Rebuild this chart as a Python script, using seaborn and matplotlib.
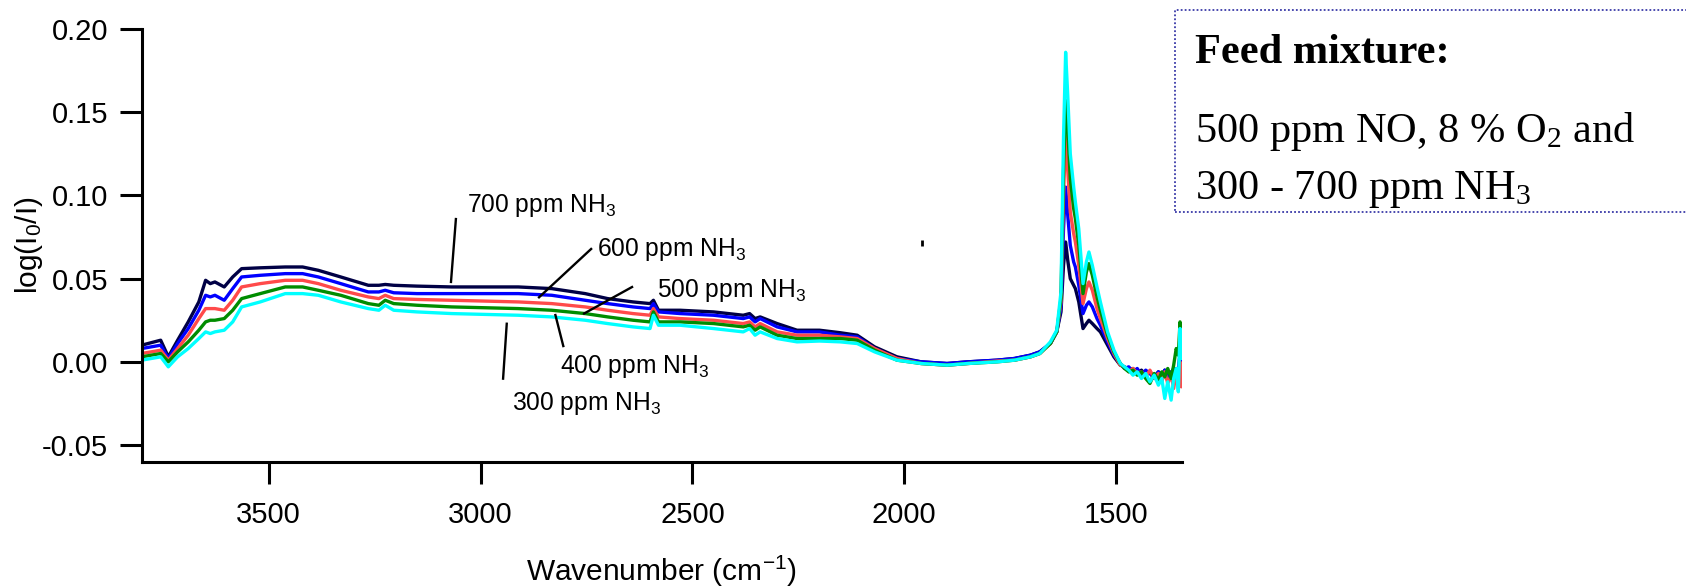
import numpy as np
import pandas as pd
import matplotlib
matplotlib.use("Agg")
import matplotlib.pyplot as plt
from matplotlib.patches import Rectangle
import seaborn as sns

# ---- spectra: wavenumber grid (cm^-1) and absorbance per NH3 level ----
wavenumber = [
    3800, 3755, 3737, 3715, 3690, 3665, 3649, 3638, 3627, 3605,
    3585, 3564, 3520, 3461, 3420, 3383, 3330, 3265, 3240, 3225,
    3205, 3150, 3068, 2911, 2832, 2753, 2700, 2640, 2600, 2592,
    2580, 2529, 2450, 2380, 2365, 2352, 2340, 2300, 2253, 2200,
    2151, 2111, 2070, 2017, 1960, 1899, 1850, 1781, 1740, 1702,
    1680, 1655, 1640, 1630, 1624, 1619, 1614, 1608, 1600, 1596,
    1588, 1578, 1570, 1564, 1556, 1545, 1537, 1520, 1505, 1490,
    1480, 1470, 1460, 1450, 1440, 1430, 1420, 1410, 1400, 1392,
    1385, 1378, 1370, 1364, 1358, 1353, 1349, 1346,
]

abs_700 = [
    0.010, 0.013, 0.003, 0.013, 0.024, 0.036, 0.049, 0.047, 0.048, 0.045,
    0.051, 0.056, 0.0565, 0.057, 0.057, 0.055, 0.051, 0.046, 0.046, 0.0465,
    0.046, 0.0455, 0.045, 0.045, 0.044, 0.041, 0.038, 0.036, 0.035, 0.037,
    0.031, 0.031, 0.030, 0.028, 0.029, 0.026, 0.027, 0.023, 0.019, 0.019,
    0.0175, 0.016, 0.009, 0.003, 0.000, -0.001, 0.000, 0.001, 0.002, 0.004,
    0.006, 0.011, 0.018, 0.030, 0.058, 0.072, 0.061, 0.050, 0.046, 0.044,
    0.036, 0.020, 0.023, 0.025, 0.023, 0.020, 0.018, 0.010, 0.003, -0.002,
    -0.003, -0.005, -0.004, -0.007, -0.005, -0.008, -0.006, -0.009, -0.006, -0.008,
    -0.005, -0.010, -0.006, -0.011, -0.004, -0.012, 0.008, -0.013,
]
abs_600 = [
    0.008, 0.010, 0.002, 0.011, 0.020, 0.031, 0.040, 0.039, 0.040, 0.037,
    0.044, 0.051, 0.052, 0.053, 0.053, 0.051, 0.047, 0.042, 0.042, 0.043,
    0.0415, 0.041, 0.041, 0.041, 0.040, 0.037, 0.035, 0.033, 0.032, 0.035,
    0.030, 0.029, 0.028, 0.026, 0.027, 0.024, 0.026, 0.021, 0.018, 0.018,
    0.016, 0.015, 0.008, 0.002, 0.000, -0.001, 0.000, 0.001, 0.002, 0.004,
    0.006, 0.011, 0.018, 0.033, 0.080, 0.105, 0.088, 0.070, 0.060, 0.057,
    0.046, 0.029, 0.034, 0.036, 0.033, 0.026, 0.022, 0.012, 0.004, -0.001,
    -0.004, -0.003, -0.006, -0.004, -0.008, -0.005, -0.007, -0.010, -0.006, -0.009,
    -0.005, -0.011, -0.007, -0.004, -0.012, -0.005, 0.004, -0.010,
]
abs_500 = [
    0.005, 0.007, 0.001, 0.008, 0.016, 0.026, 0.032, 0.032, 0.032, 0.031,
    0.037, 0.045, 0.047, 0.049, 0.049, 0.047, 0.043, 0.039, 0.038, 0.040,
    0.038, 0.0375, 0.037, 0.036, 0.035, 0.033, 0.031, 0.029, 0.028, 0.032,
    0.027, 0.026, 0.025, 0.023, 0.024, 0.021, 0.023, 0.018, 0.016, 0.016,
    0.015, 0.014, 0.008, 0.002, -0.001, -0.002, -0.001, 0.0005, 0.001, 0.003,
    0.005, 0.011, 0.018, 0.036, 0.100, 0.136, 0.115, 0.090, 0.077, 0.072,
    0.058, 0.035, 0.044, 0.048, 0.043, 0.032, 0.026, 0.014, 0.005, -0.002,
    -0.003, -0.006, -0.004, -0.007, -0.006, -0.009, -0.005, -0.010, -0.007, -0.012,
    -0.006, -0.013, -0.008, -0.016, -0.006, -0.012, 0.000, -0.015,
]
abs_400 = [
    0.003, 0.005, 0.000, 0.006, 0.012, 0.019, 0.024, 0.025, 0.025, 0.026,
    0.031, 0.038, 0.041, 0.045, 0.045, 0.043, 0.040, 0.035, 0.034, 0.037,
    0.035, 0.034, 0.033, 0.032, 0.031, 0.029, 0.027, 0.025, 0.024, 0.030,
    0.024, 0.024, 0.023, 0.021, 0.022, 0.019, 0.021, 0.016, 0.014, 0.014,
    0.014, 0.013, 0.007, 0.001, -0.001, -0.002, -0.001, 0.000, 0.001, 0.003,
    0.005, 0.011, 0.018, 0.038, 0.115, 0.157, 0.140, 0.110, 0.092, 0.086,
    0.070, 0.041, 0.054, 0.059, 0.052, 0.039, 0.031, 0.016, 0.006, -0.001,
    -0.004, -0.006, -0.005, -0.008, -0.006, -0.010, -0.013, -0.007, -0.011, -0.006,
    -0.009, -0.004, -0.010, -0.002, 0.008, 0.004, 0.024, 0.010,
]
abs_300 = [
    0.001, 0.003, -0.003, 0.003, 0.008, 0.014, 0.018, 0.017, 0.018, 0.019,
    0.024, 0.033, 0.036, 0.041, 0.041, 0.040, 0.036, 0.032, 0.031, 0.034,
    0.031, 0.030, 0.029, 0.028, 0.027, 0.025, 0.023, 0.021, 0.020, 0.028,
    0.022, 0.022, 0.020, 0.018, 0.020, 0.016, 0.018, 0.014, 0.012, 0.0125,
    0.012, 0.011, 0.006, 0.001, -0.001, -0.002, -0.001, 0.000, 0.001, 0.003,
    0.005, 0.012, 0.019, 0.042, 0.135, 0.186, 0.160, 0.125, 0.105, 0.096,
    0.080, 0.047, 0.060, 0.066, 0.058, 0.045, 0.036, 0.018, 0.007, -0.001,
    -0.003, -0.005, -0.008, -0.006, -0.010, -0.007, -0.012, -0.008, -0.014, -0.010,
    -0.022, -0.012, -0.023, -0.010, -0.004, -0.018, 0.020, 0.002,
]

series_names = ["700 ppm", "600 ppm", "500 ppm", "400 ppm", "300 ppm"]
series_values = [abs_700, abs_600, abs_500, abs_400, abs_300]
series_colors = ["#000045", "#0000ff", "#ff4a4a", "#008c00", "#00ffff"]

# leader-line labels
label_texts = ["700 ppm NH$_3$", "600 ppm NH$_3$", "500 ppm NH$_3$",
               "400 ppm NH$_3$", "300 ppm NH$_3$"]
label_x = [3031, 2725, 2584, 2812, 2926]
label_y = [0.0901, 0.0633, 0.0392, -0.0066, -0.0288]
leader_x0 = [3058, 2737, 2640, 2824, 2938]
leader_y0 = [0.0865, 0.0683, 0.0453, 0.0288, 0.0236]
leader_x1 = [3070, 2864, 2758, 2804, 2947]
leader_y1 = [0.0473, 0.0383, 0.0287, 0.0088, -0.0108]

stray_x = [1958]
stray_y = [0.0715]

x_ticks = [3500, 3000, 2500, 2000, 1500]
y_ticks = [-0.05, 0.00, 0.05, 0.10, 0.15, 0.20]

box_lines = ["Feed mixture:", "500 ppm NO, 8 % O$_2$ and", "300 - 700 ppm NH$_3$"]

# ---- style ----
sns.set_style("ticks")
plt.rcParams["font.family"] = ["Liberation Sans", "DejaVu Sans"]
plt.rcParams["mathtext.default"] = "regular"
plt.rcParams["axes.unicode_minus"] = False
plt.rcParams["text.color"] = "black"
plt.rcParams["axes.labelcolor"] = "black"

df = pd.concat(
    [pd.DataFrame({"wavenumber": wavenumber, "absorbance": vals, "feed": name})
     for name, vals in zip(series_names, series_values)],
    ignore_index=True,
)

fig = plt.figure(figsize=(16.86, 5.88), dpi=100)
ax = fig.add_axes([0.0840, 0.2148, 0.6169, 0.7359])

sns.lineplot(
    data=df, x="wavenumber", y="absorbance", hue="feed",
    hue_order=series_names, palette=dict(zip(series_names, series_colors)),
    estimator=None, sort=False, linewidth=2.4, legend=False, ax=ax,
)

ax.set_xlim(3800, 1345)
ax.set_ylim(-0.06, 0.20)
ax.set_xticks(x_ticks)
ax.set_xticklabels([str(t) for t in x_ticks])
ax.set_yticks(y_ticks)
ax.set_yticklabels([f"{t:.2f}" for t in y_ticks])

for side in ("top", "right"):
    ax.spines[side].set_visible(False)
for side in ("left", "bottom"):
    ax.spines[side].set_linewidth(2.2)
    ax.spines[side].set_color("black")

ax.tick_params(axis="both", direction="out", length=16, width=2.2,
               colors="black", labelsize=21)
ax.tick_params(axis="x", pad=12)
ax.tick_params(axis="y", pad=8)

ax.set_xlabel("Wavenumber (cm$^{-1}$)", fontsize=21.5)
ax.xaxis.label.set_va("baseline")
ax.xaxis.set_label_coords(0.5, -0.276)
ax.set_ylabel("log(I$_0$/I)", fontsize=21.5)
ax.yaxis.label.set_va("baseline")
ax.yaxis.set_label_coords(-0.101, 0.5)

# leader lines and labels
for tx, x, y, x0, y0, x1, y1 in zip(label_texts, label_x, label_y,
                                    leader_x0, leader_y0, leader_x1, leader_y1):
    ax.plot([x0, x1], [y0, y1], color="black", linewidth=1.7,
            solid_capstyle="butt")
    ax.text(x, y, tx, fontsize=17.7, ha="left", va="baseline", color="black")

ax.plot(stray_x, stray_y, marker="|", markersize=4, markeredgewidth=2,
        color="black", linestyle="none")

# feed mixture box
box = Rectangle((0.6969, 0.6395), 0.35, 0.3435, transform=fig.transFigure,
                fill=False, edgecolor="#3a3aa8", linestyle=(0, (1, 1.2)),
                linewidth=1.3, clip_on=False)
fig.patches.append(box)

serif = ["Liberation Serif", "DejaVu Serif"]
fig.text(1195 / 1686, 1 - 63 / 588, box_lines[0], fontsize=30.5,
         fontweight="bold", family=serif, ha="left", va="baseline", color="black")
fig.text(1195 / 1686, 1 - 142 / 588, box_lines[1], fontsize=30.5,
         family=serif, ha="left", va="baseline", color="black")
fig.text(1195 / 1686, 1 - 199 / 588, box_lines[2], fontsize=30.5,
         family=serif, ha="left", va="baseline", color="black")

fig.savefig("out.png", dpi=100)
